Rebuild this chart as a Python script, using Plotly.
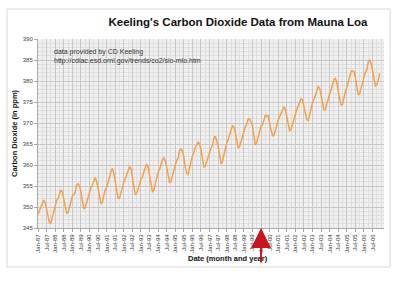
import plotly.graph_objects as go

# Monthly CO2 (ppm), Jan 1987 .. Dec 2006
co2_1987 = [348.25, 349.00, 349.74, 350.80, 351.66, 351.07, 349.33, 347.92, 346.27, 346.18, 347.64, 348.78]
co2_1988 = [350.25, 351.54, 352.05, 353.41, 354.04, 353.62, 352.22, 350.27, 348.55, 348.72, 349.91, 351.18]
co2_1989 = [352.60, 352.92, 353.53, 355.26, 355.52, 354.97, 353.75, 351.52, 349.64, 349.83, 351.14, 352.37]
co2_1990 = [353.50, 354.55, 355.23, 356.04, 357.00, 356.07, 354.67, 352.76, 350.82, 351.04, 352.69, 354.07]
co2_1991 = [354.59, 355.63, 357.03, 358.48, 359.22, 358.12, 356.06, 353.92, 352.05, 352.11, 353.64, 354.89]
co2_1992 = [355.88, 356.63, 357.72, 359.07, 359.58, 359.17, 356.94, 354.92, 352.94, 353.23, 354.09, 355.33]
co2_1993 = [356.63, 357.10, 358.32, 359.41, 360.23, 359.55, 357.53, 355.48, 353.67, 353.95, 355.30, 356.78]
co2_1994 = [358.34, 358.89, 359.95, 361.25, 361.67, 360.94, 359.55, 357.49, 355.84, 356.00, 357.59, 359.05]
co2_1995 = [359.98, 361.03, 361.66, 363.48, 363.82, 363.30, 361.94, 359.50, 358.11, 357.80, 359.61, 360.74]
co2_1996 = [362.09, 363.29, 364.06, 364.76, 365.45, 365.01, 363.70, 361.54, 359.51, 359.65, 360.80, 362.38]
co2_1997 = [363.23, 364.06, 364.61, 366.40, 366.84, 365.68, 364.52, 362.57, 360.24, 360.83, 362.49, 364.34]
co2_1998 = [365.27, 365.98, 367.24, 368.66, 369.42, 368.99, 367.82, 365.95, 364.02, 364.40, 365.52, 367.13]
co2_1999 = [368.18, 369.07, 369.68, 370.99, 370.96, 370.30, 369.45, 366.90, 364.81, 365.37, 366.72, 368.10]
co2_2000 = [369.29, 369.54, 370.60, 371.82, 371.58, 371.70, 369.86, 368.13, 367.00, 367.03, 368.37, 369.67]
co2_2001 = [370.59, 371.51, 372.43, 373.37, 373.85, 373.22, 371.50, 369.61, 368.18, 368.45, 369.76, 371.24]
co2_2002 = [372.53, 373.20, 374.12, 375.02, 375.76, 375.52, 374.01, 371.85, 370.75, 370.55, 372.25, 373.79]
co2_2003 = [374.88, 375.64, 376.45, 377.73, 378.60, 378.28, 376.70, 374.38, 373.17, 373.15, 374.66, 375.99]
co2_2004 = [377.00, 377.87, 378.88, 380.35, 380.62, 379.69, 377.47, 376.01, 374.25, 374.46, 376.16, 377.51]
co2_2005 = [378.46, 379.73, 380.77, 382.29, 382.45, 382.21, 380.74, 378.74, 376.70, 377.00, 378.35, 380.11]
co2_2006 = [381.38, 382.19, 382.67, 384.61, 385.03, 384.05, 382.46, 380.41, 378.85, 379.13, 380.15, 381.82]

co2 = (co2_1987 + co2_1988 + co2_1989 + co2_1990 + co2_1991 + co2_1992 + co2_1993
       + co2_1994 + co2_1995 + co2_1996 + co2_1997 + co2_1998 + co2_1999 + co2_2000
       + co2_2001 + co2_2002 + co2_2003 + co2_2004 + co2_2005 + co2_2006)

years = list(range(1987, 2007))
months = ["Jan", "Feb", "Mar", "Apr", "May", "Jun", "Jul", "Aug", "Sep", "Oct", "Nov", "Dec"]
month_labels = [f"{m}-{y % 100:02d}" for y in years for m in months]
month_idx = list(range(len(month_labels)))

tick_vals = [i for i in month_idx if i % 6 == 0]
tick_text = [month_labels[i] for i in tick_vals]
y_ticks = [345, 350, 355, 360, 365, 370, 375, 380, 385, 390]

arrow_label = "Jan-00"

W, H = 400, 281
L, R, T, B = 38, 16, 39, 53
pw, ph = W - L - R, H - T - B

def px_x(p):
    return (p - L) / pw

def px_y(p):
    return (H - B - p) / ph

FONT = "Arial, Liberation Sans, sans-serif"

fig = go.Figure()
fig.add_trace(go.Scatter(
    x=month_idx, y=co2, mode="lines",
    line=dict(color="#f5a04a", width=1.5),
    hoverinfo="skip", showlegend=False,
))

fig.update_layout(
    width=W, height=H,
    margin=dict(l=L, r=R, t=T, b=B),
    paper_bgcolor="white",
    plot_bgcolor="#f0f0f0",
    font=dict(family=FONT, color="#333333"),
    title=dict(text="<b>Keeling's Carbon Dioxide Data from Mauna Loa</b>",
               xref="container", yref="container",
               x=238 / W, y=1 - 22 / H, xanchor="center", yanchor="middle",
               font=dict(size=11.5, color="#111111", family=FONT)),
    showlegend=False,
)

fig.update_xaxes(
    range=[0, 242], tickmode="array", tickvals=tick_vals, ticktext=tick_text,
    tickangle=-90, tickfont=dict(size=6, color="#333333"),
    showgrid=True, gridcolor="#c8c8c8", gridwidth=1,
    minor=dict(dtick=3, tick0=0, showgrid=True, gridcolor="#dedede", gridwidth=1),
    zeroline=False, showline=True, linecolor="#a8a8a8", linewidth=1,
    ticks="outside", ticklen=3, tickcolor="#a8a8a8",
)
fig.update_yaxes(
    range=[345, 390], tickmode="array", tickvals=y_ticks,
    tickfont=dict(size=6, color="#444444"),
    showgrid=True, gridcolor="#c8c8c8", gridwidth=1,
    minor=dict(dtick=1, tick0=345, showgrid=True, gridcolor="#dedede", gridwidth=1),
    zeroline=False, showline=True, linecolor="#a8a8a8", linewidth=1,
    ticks="outside", ticklen=3, tickcolor="#a8a8a8",
    title=dict(text="<b>Carbon Dioxide (in ppm)</b>", font=dict(size=7.5, color="#111111"),
               standoff=4),
)

# x-axis title (offset to the right as in the original)
fig.add_annotation(
    x=px_x(228), y=px_y(258), xref="paper", yref="paper",
    text="<b>Date (month and year)</b>", showarrow=False,
    xanchor="center", yanchor="middle",
    font=dict(size=7.5, color="#111111", family=FONT),
)

# source note
fig.add_annotation(
    x=px_x(52), y=px_y(56), xref="paper", yref="paper",
    text="data provided by CD Keeling<br>http://cdiac.esd.ornl.gov/trends/co2/sio-mlo.htm",
    showarrow=False, xanchor="left", yanchor="middle", align="left",
    font=dict(size=7, color="#333333", family=FONT),
)

# red arrow pointing at Jan-00
fig.add_annotation(
    x=month_labels.index(arrow_label), y=345, xref="x", yref="y",
    ax=0, ay=36, text="", showarrow=True,
    arrowhead=2, arrowsize=2, arrowwidth=2, arrowcolor="#c8141e", standoff=0,
)

# outer chart frame
fig.add_shape(
    type="rect", xref="paper", yref="paper",
    x0=px_x(7), x1=px_x(390), y0=px_y(267), y1=px_y(9),
    line=dict(color="#d6d6d6", width=1), fillcolor="rgba(0,0,0,0)", layer="below",
)

fig.write_html("out.html")
